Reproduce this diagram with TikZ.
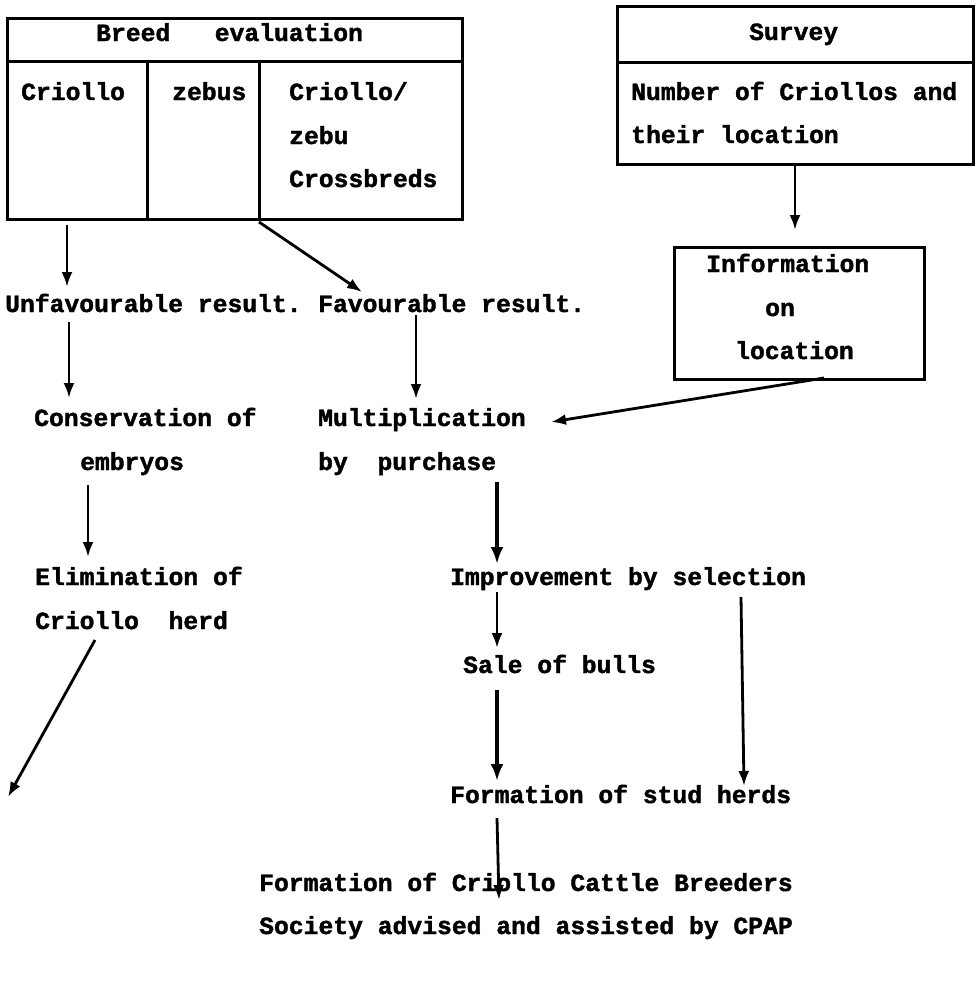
\documentclass[tikz,border=0pt]{standalone}
\usepackage{fontspec}
\setmonofont[BoldFeatures={FakeBold=1.6}]{Liberation Mono}
\usetikzlibrary{arrows.meta}
\begin{document}
\begin{tikzpicture}[x=1pt,y=-1pt,
  lbl/.style={anchor=base west, inner sep=0pt, font=\ttfamily\bfseries\fontsize{24.7}{30}\selectfont},
  frame/.style={draw, line width=3pt, inner sep=0pt, anchor=north west},
  rule/.style={line width=3pt},
  arr/.style={line width=2.8pt, -{Latex[length=15pt,width=11pt]}},
  heavyarr/.style={line width=4.2pt, -{Latex[length=17pt,width=13pt]}}]
\path[use as bounding box, fill=white] (0,0) rectangle (978,994);

% Breed evaluation box
\node[frame, minimum width=455pt, minimum height=201pt] (breed) at (6,17) {};
\draw[rule] (6,61) -- (461,61);
\draw[rule] (147,61) -- (147,218);
\draw[rule] (259,61) -- (259,218);
\node[lbl] (breedt) at (96,41) {Breed\ \ \ evaluation};
\node[lbl] (cri) at (21,100) {Criollo};
\node[lbl] (zeb) at (172,100) {zebus};
\node[lbl] (cz1) at (289,100) {Criollo/};
\node[lbl] (cz2) at (289,144) {zebu};
\node[lbl] (cz3) at (289,187) {Crossbreds};

% Survey box
\node[frame, minimum width=356pt, minimum height=158pt] (survey) at (616,5) {};
\draw[rule] (616,62) -- (972,62);
\node[lbl] (survt) at (749,40) {Survey};
\node[lbl] (num) at (631,100) {Number of Criollos and};
\node[lbl] (loc) at (631,143) {their location};

% Information box
\node[frame, minimum width=250pt, minimum height=132pt] (info) at (673,246) {};
\node[lbl] (inf1) at (706,272) {Information};
\node[lbl] (inf2) at (765,316) {on};
\node[lbl] (inf3) at (735,359) {location};

% Text nodes
\node[lbl] (unfav) at (5,312) {Unfavourable result.};
\node[lbl] (fav) at (318,312) {Favourable result.};
\node[lbl] (cons) at (34,426) {Conservation of};
\node[lbl] (emb) at (80,470) {embryos};
\node[lbl] (mult) at (318,426) {Multiplication};
\node[lbl] (purch) at (318,470) {by\ \ purchase};
\node[lbl] (elim) at (35,585) {Elimination of};
\node[lbl] (herd) at (35,629) {Criollo\ \ herd};
\node[lbl] (impr) at (450,585) {Improvement by selection};
\node[lbl] (sale) at (463,673) {Sale of bulls};
\node[lbl] (stud) at (450,803) {Formation of stud herds};
\node[lbl] (soc1) at (259,891) {Formation of Criollo Cattle Breeders};
\node[lbl] (soc2) at (259,934) {Society advised and assisted by CPAP};

% connector end points
\coordinate (a1s) at (67,225);  \coordinate (a1e) at (67,287);
\coordinate (a2s) at (259,222); \coordinate (a2e) at (362,292);
\coordinate (a3s) at (795,166); \coordinate (a3e) at (795,230);
\coordinate (a4s) at (69,322);  \coordinate (a4e) at (69,398);
\coordinate (a5s) at (416,315); \coordinate (a5e) at (416,399);
\coordinate (a6s) at (824,378); \coordinate (a6e) at (551,422);
\coordinate (a7s) at (88,485);  \coordinate (a7e) at (88,557);
\coordinate (a8s) at (497,482); \coordinate (a8e) at (497,564);
\coordinate (a9s) at (497,592); \coordinate (a9e) at (497,648);
\coordinate (a10s) at (497,690); \coordinate (a10e) at (497,781);
\coordinate (a11s) at (741,597); \coordinate (a11e) at (744,786);
\coordinate (a12s) at (497,818); \coordinate (a12e) at (499,900);
\coordinate (a13s) at (95,640); \coordinate (a13e) at (8,797);

\draw[arr] (a1s) -- (a1e);
\draw[arr] (a2s) -- (a2e);
\draw[arr] (a3s) -- (a3e);
\draw[arr] (a4s) -- (a4e);
\draw[arr] (a5s) -- (a5e);
\draw[arr] (a6s) -- (a6e);
\draw[arr] (a7s) -- (a7e);
\draw[heavyarr] (a8s) -- (a8e);
\draw[arr] (a9s) -- (a9e);
\draw[heavyarr] (a10s) -- (a10e);
\draw[arr] (a11s) -- (a11e);
\draw[arr] (a12s) -- (a12e);
\draw[arr] (a13s) -- (a13e);
\end{tikzpicture}
\end{document}
